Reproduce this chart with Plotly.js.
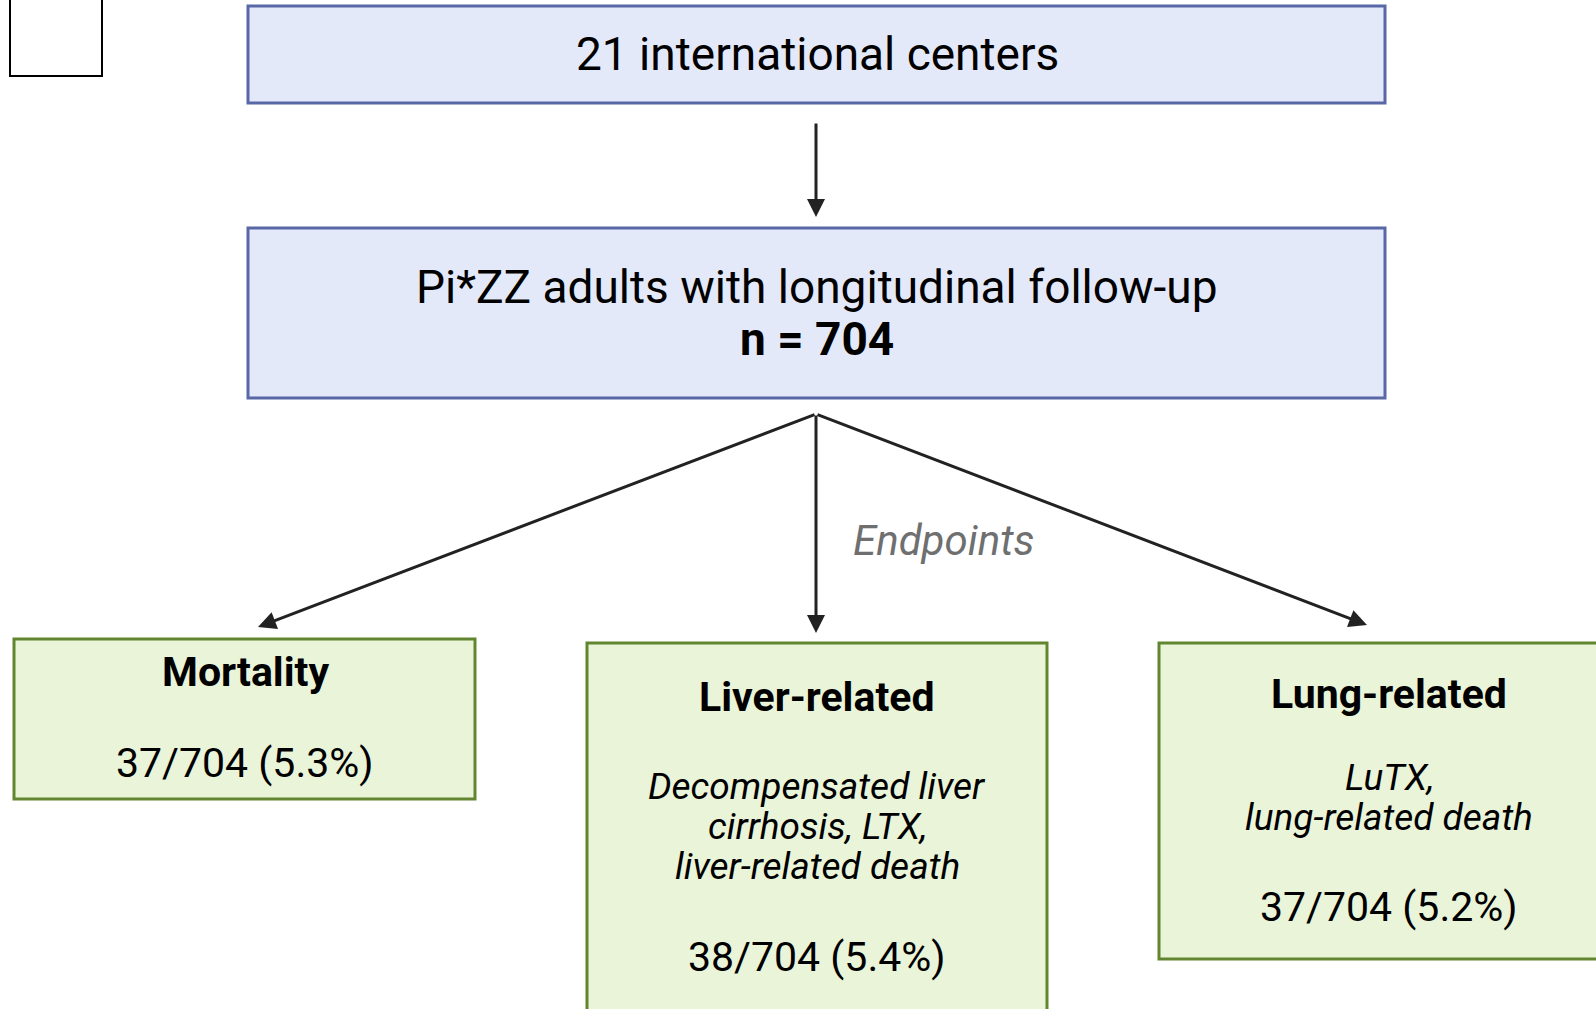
<!DOCTYPE html>
<html>
<head>
<meta charset="utf-8">
<script src="https://cdn.plot.ly/plotly-3.0.1.min.js"></script>
<style>
  html, body { margin: 0; padding: 0; background: #fff; }
  #chart { width: 1596px; height: 1009px; }
</style>
</head>
<body>
<div id="chart"></div>
<script>
// flow chart data
const centers = 21;
const cohortLabel = "Pi*ZZ adults with longitudinal follow-up";
const total = 704;
const endpoints = ["Mortality", "Liver-related", "Lung-related"];
const events = [37, 38, 37];
const percents = [5.3, 5.4, 5.2];
const details = [
  [],
  ["Decompensated liver", "cirrhosis, LTX,", "liver-related death"],
  ["LuTX,", "lung-related death"],
];

// layout geometry (pixels, y going down)
const W = 1596, H = 1009;
const blueFill = "#e3e9f8", blueLine = "#5867a6";
const greenFill = "#e9f4d9", greenLine = "#62862f";
const ink = "#222222";
const font = "Roboto, 'Open Sans', sans-serif";

const topBox = { x0: 248, x1: 1385, y0: 6, y1: 103 };
const cohortBox = { x0: 248, x1: 1385, y0: 228, y1: 398 };
const endBoxes = [
  { x0: 14, x1: 475, y0: 639, y1: 799, title: 672, lines: [], count: 763, cx: 245 },
  { x0: 587, x1: 1047, y0: 643, y1: 1030, title: 697, lines: [786, 826, 866], count: 957, cx: 817 },
  { x0: 1159, x1: 1620, y0: 643, y1: 959, title: 694, lines: [777, 817], count: 907, cx: 1389 },
];
const apex = { x: 816, y: 414 };
const tips = [{ x: 258, y: 627 }, { x: 816, y: 633 }, { x: 1367, y: 625 }];

const shapes = [];
const annotations = [];

function rect(b, fill, line, width) {
  shapes.push({
    type: "rect", xref: "x", yref: "y",
    x0: b.x0, x1: b.x1, y0: b.y0, y1: b.y1,
    fillcolor: fill, line: { color: line, width: width },
    layer: "below",
  });
}

function label(x, y, text, size, color) {
  annotations.push({
    x: x, y: y, xref: "x", yref: "y", text: text, showarrow: false,
    xanchor: "center", yanchor: "middle",
    font: { family: font, size: size, color: color || "#000" },
  });
}

function arrow(from, to) {
  annotations.push({
    x: to.x, y: to.y, ax: from.x, ay: from.y,
    xref: "x", yref: "y", axref: "x", ayref: "y",
    text: "", showarrow: true,
    arrowhead: 2, arrowsize: 1.2, arrowwidth: 3, arrowcolor: ink,
    standoff: 0, startstandoff: 0,
  });
}

// little empty box in the corner
rect({ x0: 10, x1: 102, y0: -10, y1: 76 }, "#ffffff", "#000000", 2);

rect(topBox, blueFill, blueLine, 3);
label(817, 54, `${centers} international centers`, 46);

arrow({ x: 816, y: 122 }, { x: 816, y: 217 });

rect(cohortBox, blueFill, blueLine, 3);
label(817, 287, cohortLabel, 46);
label(817, 339, `<b>n = ${total}</b>`, 46);

tips.forEach((t) => arrow(apex, t));
label(944, 540, "<i>Endpoints</i>", 42, "#6f6f6f");

endpoints.forEach((name, i) => {
  const b = endBoxes[i];
  rect(b, greenFill, greenLine, 3);
  label(b.cx, b.title, `<b>${name}</b>`, 41);
  details[i].forEach((txt, j) => label(b.cx, b.lines[j], `<i>${txt}</i>`, 37));
  label(b.cx, b.count, `${events[i]}/${total} (${percents[i]}%)`, 41);
});

const layout = {
  width: W,
  height: H,
  margin: { l: 0, r: 0, t: 0, b: 0 },
  paper_bgcolor: "#ffffff",
  plot_bgcolor: "#ffffff",
  xaxis: { range: [0, W], visible: false, fixedrange: true },
  yaxis: { range: [H, 0], visible: false, fixedrange: true },
  showlegend: false,
  shapes: shapes,
  annotations: annotations,
};

Plotly.newPlot("chart", [], layout, { displayModeBar: false, staticPlot: true });
</script>
</body>
</html>
